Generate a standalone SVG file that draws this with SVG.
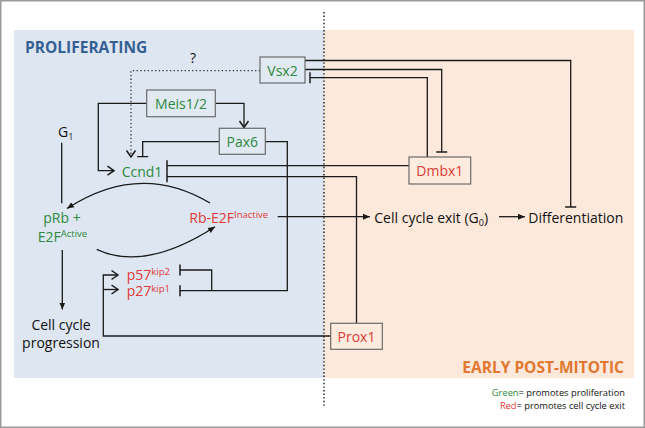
<svg xmlns="http://www.w3.org/2000/svg" width="645" height="428" viewBox="0 0 645 428">
<defs>
<style>
text{font-family:"Open Sans","Noto Sans","Liberation Sans",sans-serif;}
.t{font-size:14px;}
.g{fill:#2d8a3e;}
.r{fill:#e03a35;}
.k{fill:#111;}
.box{stroke:#6b6b6b;stroke-width:1.2;}
.ln{fill:none;stroke:#1a1a1a;stroke-width:1.3;}
.dot{fill:none;stroke:#333;stroke-width:1.3;stroke-dasharray:1.3 2.4;}
.sup{font-size:9.5px;}
</style>
<marker id="tee" markerUnits="userSpaceOnUse" viewBox="0 0 2 12" refX="1" refY="6" markerWidth="2" markerHeight="12" orient="auto">
<path d="M1,0.5 L1,11.5" stroke="#1a1a1a" stroke-width="1.5"/>
</marker>
<marker id="chev" markerUnits="userSpaceOnUse" viewBox="0 0 10 12" refX="8" refY="6" markerWidth="10" markerHeight="12" orient="auto">
<path d="M1.5,1.5 L8,6 L1.5,10.5" fill="none" stroke="#1a1a1a" stroke-width="1.5"/>
</marker>
<marker id="tri" markerUnits="userSpaceOnUse" viewBox="0 0 8 8" refX="7" refY="4" markerWidth="8" markerHeight="8" orient="auto">
<path d="M0,1 L7,4 L0,7 Z" fill="#1a1a1a"/>
</marker>
</defs>

<rect x="0.75" y="0.75" width="643.5" height="426.5" fill="#ffffff" stroke="#9a9a9a" stroke-width="1.5"/>
<g id="regions">
<rect x="14" y="30" width="310" height="348" fill="#dde6f1"/>
<rect x="324" y="30" width="310" height="348" fill="#fde9db"/>
<line x1="324" y1="12" x2="324" y2="407" stroke="#222" stroke-width="1.5" stroke-dasharray="1.4 2.2"/>
<text x="25" y="53" font-size="15.5" font-weight="bold" fill="#355f94">PROLIFERATING</text>
<text x="624" y="372.5" font-size="15.5" font-weight="bold" fill="#e2772f" text-anchor="end">EARLY POST-MITOTIC</text>
</g>

<g id="connectors">
<path class="ln" d="M305,60.5 H570.7 V207" marker-end="url(#tee)"/>
<path class="ln" d="M305,69.5 H441.7 V152" marker-end="url(#tee)"/>
<path class="ln" d="M427.3,157 V77.7 H310" marker-end="url(#tee)"/>
<path class="dot" d="M260,70.7 H131 V157" marker-end="url(#chev)"/>
<path class="ln" d="M215.3,103.3 H244 V127.5" marker-end="url(#chev)"/>
<path class="ln" d="M146.7,103.3 H98.3 V170.7 H114" marker-end="url(#chev)"/>
<path class="ln" d="M219.3,141.7 H142.7 V156.5" marker-end="url(#tee)"/>
<path class="ln" d="M265.3,141.7 H287.3 V290.7 H180" marker-end="url(#tee)"/>
<path class="ln" d="M211.7,290.7 V270 H180" marker-end="url(#tee)"/>
<path class="ln" d="M409,165.7 H167" marker-end="url(#tee)"/>
<path class="ln" d="M356.5,323.3 V176.7 H167" marker-end="url(#tee)"/>
<path class="ln" d="M330.7,336 H103.3 V275 H118" marker-end="url(#chev)"/>
<path class="ln" d="M103.3,289.5 H118" marker-end="url(#chev)"/>
<path class="ln" d="M277.7,216.7 H370" marker-end="url(#tri)"/>
<path class="ln" d="M499,216.7 H525" marker-end="url(#tri)"/>
<path class="ln" d="M62.3,250 V309.5" marker-end="url(#tri)"/>
<path class="ln" d="M61.7,142.7 V203.3"/>
<path class="ln" d="M210,203 Q140,161 67,208.5" marker-end="url(#tri)"/>
<path class="ln" d="M96.7,249.3 Q145,272 215,226.7" marker-end="url(#tri)"/>
<text x="193" y="63" class="t k" text-anchor="middle" font-size="13">?</text>
</g>

<g id="Vsx2">
<rect class="box" x="260" y="57" width="45" height="26" fill="#e1e9f2"/>
<text class="t g" x="282.5" y="75.5" text-anchor="middle">Vsx2</text>
</g>
<g id="Meis12">
<rect class="box" x="146.7" y="90" width="68.6" height="26.7" fill="#e1e9f2"/>
<text class="t g" x="181" y="108.5" text-anchor="middle">Meis1/2</text>
</g>
<g id="Pax6">
<rect class="box" x="219.3" y="128.3" width="46" height="26" fill="#e1e9f2"/>
<text class="t g" x="242.3" y="146.5" text-anchor="middle">Pax6</text>
</g>
<g id="Dmbx1">
<rect class="box" x="409" y="157" width="61.7" height="27" fill="#fdebde"/>
<text class="t r" x="439.8" y="175.5" text-anchor="middle">Dmbx1</text>
</g>
<g id="Prox1">
<rect class="box" x="330.7" y="323.3" width="51.6" height="26" fill="#fdebde"/>
<text class="t r" x="356.5" y="341.5" text-anchor="middle">Prox1</text>
</g>
<g id="Ccnd1">
<text class="t g" x="121.7" y="176.5">Ccnd1</text>
</g>
<g id="G1">
<text class="t k" x="58" y="137">G<tspan font-size="9" dy="3">1</tspan></text>
</g>
<g id="pRbE2F">
<text class="t g" x="62" y="223" text-anchor="middle">pRb +</text>
<text class="t g" x="37.7" y="242">E2F<tspan class="sup" font-size="10" dy="-5">Active</tspan></text>
</g>
<g id="RbE2F">
<text class="t r" x="189.3" y="223">Rb-E2F<tspan class="sup" dy="-5">Inactive</tspan></text>
</g>
<g id="p57">
<text class="t r" x="126.7" y="279.5">p57<tspan class="sup" dy="-4.5">kip2</tspan></text>
</g>
<g id="p27">
<text class="t r" x="126.7" y="295.5">p27<tspan class="sup" dy="-4">kip1</tspan></text>
</g>
<g id="progression">
<text class="t k" x="61" y="330" text-anchor="middle">Cell cycle</text>
<text class="t k" x="61" y="348" text-anchor="middle">progression</text>
</g>
<g id="exit">
<text class="t k" x="374.3" y="222.7">Cell cycle exit (G<tspan font-size="9" dy="3">0</tspan><tspan dy="-3">)</tspan></text>
</g>
<g id="Differentiation">
<text class="t k" x="528.3" y="222.7">Differentiation</text>
</g>
<g id="legend">
<text x="625" y="396" font-size="9.3" text-anchor="end" class="k"><tspan class="g">Green</tspan>= promotes proliferation</text>
<text x="625" y="409" font-size="9.3" text-anchor="end" class="k"><tspan class="r">Red</tspan>= promotes cell cycle exit</text>
</g>
</svg>
